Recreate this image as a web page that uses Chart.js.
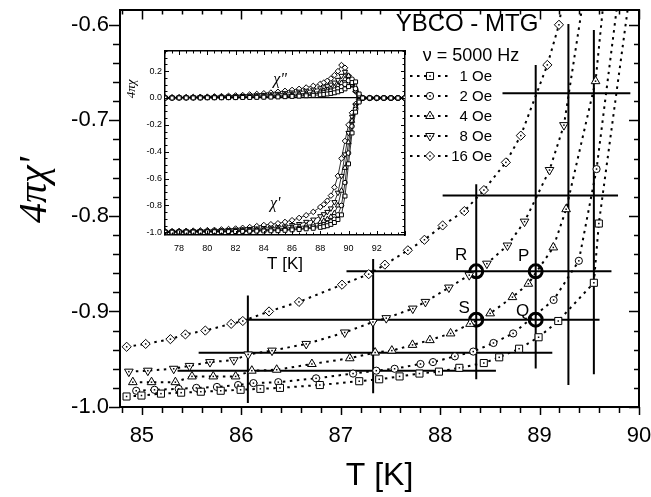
<!DOCTYPE html>
<html>
<head>
<meta charset="utf-8">
<script src="https://cdn.jsdelivr.net/npm/chart.js@4.4.0/dist/chart.umd.min.js"></script>
<style>
html, body { margin: 0; padding: 0; background: #fff; }
#wrap { position: relative; width: 651px; height: 497px; }
#main { position: absolute; left: 0; top: 0; }
#inset { position: absolute; left: 120px; top: 44px; }
</style>
</head>
<body>
<div id="wrap">
<canvas id="main" width="651" height="497"></canvas>
<canvas id="inset" width="290" height="232"></canvas>
</div>
<script>
// ---- main panel: 4*pi*chi' vs T ----
var labels = ['1 Oe', '2 Oe', '4 Oe', '8 Oe', '16 Oe'];

var T_1Oe = [84.846, 84.996, 85.192, 85.395, 85.593, 85.793, 85.993, 86.192, 86.389, 86.79, 87.186, 87.387, 87.592, 87.792, 87.988, 88.193, 88.439, 88.594, 88.794, 88.99, 89.188, 89.546, 89.596, 89.93];
var chi_1Oe = [-0.989, -0.988, -0.986, -0.985, -0.984, -0.983, -0.982, -0.981, -0.980, -0.977, -0.973, -0.971, -0.968, -0.965, -0.963, -0.959, -0.954, -0.948, -0.939, -0.927, -0.910, -0.870, -0.808, -0.55];

var T_2Oe = [84.943, 85.127, 85.37, 85.548, 85.755, 85.968, 86.122, 86.372, 86.752, 87.124, 87.358, 87.542, 87.802, 87.928, 88.148, 88.333, 88.536, 88.734, 89.141, 89.395, 89.573, 89.816];
var chi_2Oe = [-0.983, -0.982, -0.981, -0.980, -0.979, -0.977, -0.975, -0.974, -0.970, -0.965, -0.962, -0.960, -0.955, -0.953, -0.947, -0.942, -0.933, -0.923, -0.888, -0.847, -0.751, -0.55];

var T_4Oe = [84.909, 85.097, 85.337, 85.504, 85.718, 85.943, 86.106, 86.356, 86.71, 87.091, 87.346, 87.514, 87.722, 87.897, 88.105, 88.301, 88.503, 88.727, 88.887, 89.138, 89.267, 89.563, 89.668];
var chi_4Oe = [-0.974, -0.974, -0.974, -0.968, -0.968, -0.968, -0.962, -0.961, -0.955, -0.949, -0.943, -0.941, -0.935, -0.930, -0.923, -0.913, -0.902, -0.885, -0.871, -0.833, -0.793, -0.659, -0.55];

var T_8Oe = [84.869, 85.06, 85.32, 85.479, 85.685, 85.925, 86.069, 86.309, 86.653, 87.04, 87.324, 87.458, 87.725, 87.852, 88.088, 88.293, 88.47, 88.677, 88.849, 89.1, 89.245, 89.475];
var chi_8Oe = [-0.963, -0.962, -0.960, -0.957, -0.953, -0.951, -0.945, -0.941, -0.934, -0.922, -0.911, -0.907, -0.897, -0.890, -0.875, -0.862, -0.850, -0.831, -0.806, -0.752, -0.705, -0.55];

var T_16Oe = [84.847, 85.038, 85.287, 85.438, 85.638, 85.898, 86.015, 86.279, 86.58, 87.013, 87.281, 87.444, 87.675, 87.842, 88.025, 88.243, 88.44, 88.661, 88.811, 89.078, 89.195, 89.27];
var chi_16Oe = [-0.937, -0.934, -0.929, -0.924, -0.920, -0.913, -0.910, -0.900, -0.890, -0.872, -0.861, -0.851, -0.836, -0.825, -0.810, -0.795, -0.773, -0.744, -0.716, -0.642, -0.600, -0.55];

// solid bars: horizontal [y, T from, T to], vertical [T, y from, y to]
var hBars = [[-0.7786, 88.025, 89.789], [-0.6716, 88.627, 89.913], [-0.858, 87.058, 89.723],
             [-0.9086, 85.971, 89.603], [-0.9432, 85.571, 89.128], [-0.962, 85.359, 88.561]];
var vBars = [[86.066, -0.8833, -0.9958], [87.326, -0.8451, -0.9857], [88.363, -0.767, -0.971],
             [88.961, -0.642, -0.9597], [89.29, -0.5993, -0.9771], [89.546, -0.6055, -0.9656]];

// marked points R, P, S, Q
var markNames = ['R', 'P', 'S', 'Q'];
var markT = [88.363, 88.961, 88.363, 88.961];
var markChi = [-0.858, -0.858, -0.9086, -0.9086];

// ---- inset: full transition, chi' and chi'' ----
var insetT = [77, 77.5, 78, 78.5, 79, 79.5, 80, 80.5, 81, 81.5, 82, 82.5, 83, 83.5, 84, 84.5, 85, 85.5, 86, 86.5, 87, 87.5, 88,
              88.25, 88.5, 88.75, 89, 89.25, 89.5, 89.75, 90, 90.25, 90.5, 90.75, 91,
              91.5, 92, 92.5, 93, 93.5, 94];

var inRe_1Oe = [-0.999, -0.999, -0.998, -0.998, -0.998, -0.997, -0.997, -0.996, -0.996, -0.995, -0.994, -0.993, -0.992, -0.991, -0.990, -0.989, -0.988, -0.985, -0.982, -0.979, -0.974, -0.970, -0.963,
                -0.958, -0.951, -0.941, -0.927, -0.905, -0.870, -0.730, -0.490, -0.260, -0.105, -0.030, 0.000, 0, 0, 0, 0, 0, 0];
var inRe_2Oe = [-0.998, -0.998, -0.997, -0.997, -0.996, -0.996, -0.995, -0.994, -0.993, -0.992, -0.991, -0.990, -0.988, -0.986, -0.985, -0.984, -0.983, -0.980, -0.976, -0.973, -0.967, -0.960, -0.950,
                -0.944, -0.935, -0.922, -0.903, -0.870, -0.800, -0.630, -0.410, -0.210, -0.085, -0.022, 0.000, 0, 0, 0, 0, 0, 0];
var inRe_4Oe = [-0.997, -0.997, -0.996, -0.996, -0.995, -0.994, -0.993, -0.992, -0.991, -0.990, -0.988, -0.986, -0.984, -0.981, -0.979, -0.977, -0.975, -0.969, -0.963, -0.958, -0.950, -0.940, -0.925,
                -0.915, -0.902, -0.885, -0.857, -0.800, -0.690, -0.520, -0.330, -0.170, -0.065, -0.018, 0.000, 0, 0, 0, 0, 0, 0];
var inRe_8Oe = [-0.995, -0.995, -0.994, -0.993, -0.992, -0.991, -0.990, -0.988, -0.986, -0.984, -0.981, -0.978, -0.975, -0.972, -0.968, -0.965, -0.962, -0.956, -0.946, -0.938, -0.922, -0.905, -0.880,
                -0.865, -0.848, -0.822, -0.775, -0.705, -0.580, -0.420, -0.260, -0.140, -0.055, -0.015, 0.000, 0, 0, 0, 0, 0, 0];
var inRe_16Oe = [-0.992, -0.991, -0.990, -0.989, -0.988, -0.986, -0.984, -0.982, -0.979, -0.976, -0.972, -0.967, -0.961, -0.954, -0.946, -0.940, -0.933, -0.923, -0.910, -0.893, -0.873, -0.848, -0.812,
                 -0.792, -0.765, -0.727, -0.665, -0.580, -0.450, -0.320, -0.200, -0.110, -0.045, -0.012, 0.000, 0, 0, 0, 0, 0, 0];

var inIm_1Oe = [0.000, 0.000, 0.001, 0.001, 0.001, 0.001, 0.002, 0.002, 0.002, 0.003, 0.003, 0.004, 0.004, 0.005, 0.006, 0.007, 0.008, 0.010, 0.012, 0.014, 0.017, 0.020, 0.024,
                0.027, 0.030, 0.034, 0.039, 0.046, 0.055, 0.068, 0.085, 0.115, 0.120, 0.030, 0.000, 0, 0, 0, 0, 0, 0];
var inIm_2Oe = [0.001, 0.001, 0.001, 0.002, 0.002, 0.002, 0.003, 0.003, 0.004, 0.004, 0.005, 0.006, 0.007, 0.008, 0.009, 0.011, 0.013, 0.015, 0.018, 0.021, 0.025, 0.030, 0.036,
                0.040, 0.045, 0.051, 0.059, 0.069, 0.083, 0.102, 0.130, 0.140, 0.070, 0.020, 0.000, 0, 0, 0, 0, 0, 0];
var inIm_4Oe = [0.002, 0.002, 0.002, 0.003, 0.003, 0.004, 0.004, 0.005, 0.006, 0.007, 0.008, 0.009, 0.011, 0.013, 0.015, 0.017, 0.020, 0.023, 0.027, 0.031, 0.036, 0.042, 0.049,
                0.054, 0.060, 0.068, 0.078, 0.092, 0.112, 0.140, 0.165, 0.110, 0.055, 0.015, 0.000, 0, 0, 0, 0, 0, 0];
var inIm_8Oe = [0.003, 0.003, 0.004, 0.004, 0.005, 0.006, 0.007, 0.008, 0.009, 0.011, 0.013, 0.015, 0.017, 0.020, 0.023, 0.027, 0.031, 0.036, 0.041, 0.047, 0.054, 0.062, 0.072,
                0.079, 0.088, 0.100, 0.115, 0.135, 0.165, 0.195, 0.160, 0.100, 0.050, 0.015, 0.000, 0, 0, 0, 0, 0, 0];
var inIm_16Oe = [0.005, 0.005, 0.006, 0.007, 0.008, 0.009, 0.010, 0.012, 0.014, 0.016, 0.019, 0.022, 0.026, 0.030, 0.035, 0.040, 0.046, 0.053, 0.060, 0.068, 0.078, 0.090, 0.105,
                 0.115, 0.128, 0.145, 0.170, 0.200, 0.245, 0.225, 0.165, 0.100, 0.050, 0.015, 0.000, 0, 0, 0, 0, 0, 0];

// inset curve names, placed in data units
var insetNames = ["\u03c7\"", "\u03c7'"];
var insetNameT = [85.15, 84.8];
var insetNameY = [0.135, -0.79];

// ---------------------------------------------------------------
Chart.defaults.font.family = "'Liberation Sans', Arial, sans-serif";
Chart.defaults.color = '#000';

function zip(xs, ys) { return xs.map(function (x, i) { return {x: x, y: ys[i]}; }); }

// force a scale's thickness and drop the label overflow padding
function fixSize(prop, size) {
  return function (s) {
    s[prop] = size;
    s.paddingLeft = s.paddingRight = s.paddingTop = s.paddingBottom = 0;
  };
}

var shapes = ['rect', 'circle', 'triangle', 'triangle', 'rectRot'];
var turns = [0, 0, 0, 180, 0];
var bigR = [5, 3.6, 5, 5, 4.6];
var smallR = [2.8, 2.3, 3, 3, 2.8];
var mainT = [T_1Oe, T_2Oe, T_4Oe, T_8Oe, T_16Oe];
var mainChi = [chi_1Oe, chi_2Oe, chi_4Oe, chi_8Oe, chi_16Oe];

var seriesSets = labels.map(function (lab, i) {
  return {
    label: lab, data: zip(mainT[i], mainChi[i]), showLine: true, dot: true,
    borderColor: '#000', borderWidth: 2, borderDash: [2.5, 4.5],
    pointStyle: shapes[i], pointRotation: turns[i], pointRadius: bigR[i],
    pointBorderWidth: 1, pointBorderColor: '#000', pointBackgroundColor: '#fff'
  };
});
var barSets = hBars.map(function (b) {
  return {data: [{x: b[1], y: b[0]}, {x: b[2], y: b[0]}], showLine: true, pointRadius: 0, borderColor: '#000', borderWidth: 2};
}).concat(vBars.map(function (b) {
  return {data: [{x: b[0], y: b[1]}, {x: b[0], y: b[2]}], showLine: true, pointRadius: 0, borderColor: '#000', borderWidth: 2};
}));
var ringSet = {
  data: zip(markT, markChi), showLine: false,
  pointStyle: 'circle', pointRadius: 6.5, pointBorderWidth: 3,
  pointBorderColor: '#000', pointBackgroundColor: 'rgba(0,0,0,0)'
};

// tick marks drawn from the scales (major + minor, in or out)
function tickMarks(list, lw) {
  return {
    id: 'tickMarks',
    afterDraw: function (chart) {
      var ctx = chart.ctx, a = chart.chartArea;
      ctx.save();
      ctx.strokeStyle = '#000';
      ctx.lineWidth = lw;
      list.forEach(function (t) {
        var sc = chart.scales[t.scale];
        for (var k = Math.ceil(sc.min / t.step - 1e-6); k * t.step <= sc.max + 1e-9; k++) {
          var v = k * t.step;
          var major = Math.abs(v / t.major - Math.round(v / t.major)) < 1e-6;
          var len = (major ? t.majLen : t.minLen) * t.dir;
          var p = Math.round(sc.getPixelForValue(v)) + 0.5;
          ctx.beginPath();
          if (t.side === 'bottom') { ctx.moveTo(p, a.bottom); ctx.lineTo(p, a.bottom + len); }
          if (t.side === 'top') { ctx.moveTo(p, a.top); ctx.lineTo(p, a.top + len); }
          if (t.side === 'left') { ctx.moveTo(a.left, p); ctx.lineTo(a.left + len, p); }
          if (t.side === 'right') { ctx.moveTo(a.right, p); ctx.lineTo(a.right + len, p); }
          ctx.stroke();
        }
      });
      ctx.restore();
    }
  };
}

var mainText = {
  id: 'mainText',
  afterDraw: function (chart) {
    var ctx = chart.ctx, a = chart.chartArea;
    ctx.save();
    // centre dots in the open markers
    ctx.fillStyle = '#000';
    chart.data.datasets.forEach(function (ds, i) {
      if (!ds.dot) return;
      chart.getDatasetMeta(i).data.forEach(function (el) {
        if (el.x >= a.left && el.x <= a.right && el.y >= a.top && el.y <= a.bottom) ctx.fillRect(el.x - 0.75, el.y - 0.75, 1.5, 1.5);
      });
    });
    // heading
    ctx.textAlign = 'center';
    ctx.textBaseline = 'alphabetic';
    ctx.font = "24px 'Liberation Sans', Arial, sans-serif";
    ctx.fillText('YBCO - MTG', 467, 31);
    ctx.font = "18px 'Liberation Sans', Arial, sans-serif";
    ctx.fillText('\u03bd = 5000 Hz', 471, 61);
    // legend
    ctx.font = "15px 'Liberation Sans', Arial, sans-serif";
    ctx.textAlign = 'right';
    ctx.textBaseline = 'middle';
    for (var i = 0; i < labels.length; i++) {
      var ds = chart.data.datasets[i], y = 76 + 20 * i;
      ctx.lineWidth = 2;
      ctx.strokeStyle = '#000';
      ctx.setLineDash([2.5, 4.5]);
      ctx.beginPath(); ctx.moveTo(410, y); ctx.lineTo(452, y); ctx.stroke();
      ctx.setLineDash([]);
      ctx.lineWidth = 1;
      ctx.fillStyle = '#fff';
      Chart.helpers.drawPoint(ctx, {pointStyle: ds.pointStyle, radius: ds.pointRadius, rotation: ds.pointRotation, borderWidth: 1}, 430, y);
      ctx.fillStyle = '#000';
      ctx.fillRect(429.25, y - 0.75, 1.5, 1.5);
      ctx.fillText(labels[i], 492, y + 1);
    }
    // R P S Q
    var off = [[-15, -16], [-12, -15], [-12, -11], [-13, -8]];
    var ringMeta = chart.getDatasetMeta(chart.data.datasets.length - 1);
    ctx.font = "17px 'Liberation Sans', Arial, sans-serif";
    ctx.textAlign = 'center';
    ringMeta.data.forEach(function (el, k) {
      ctx.fillText(markNames[k], el.x + off[k][0], el.y + off[k][1]);
    });
    // y axis title
    ctx.translate(35, 190);
    ctx.rotate(-Math.PI / 2);
    ctx.font = "italic 40px 'Liberation Serif', 'Times New Roman', serif";
    ctx.fillText("4\u03c0\u03c7'", 0, 0);
    ctx.restore();
  }
};

var xMin = 84.78, xMax = 90, yMin = -1.0, yMax = -0.584;
var frame = function (pos, lo, hi, size, bw) {
  return {
    type: 'linear', position: pos, min: lo, max: hi, display: true,
    ticks: {display: false}, grid: {display: false, drawTicks: false},
    border: {color: '#000', width: bw},
    afterFit: fixSize(pos === 'top' ? 'height' : 'width', size)
  };
};

new Chart(document.getElementById('main'), {
  type: 'scatter',
  data: {datasets: seriesSets.concat(barSets, [ringSet])},
  options: {
    responsive: false, animation: false, events: [],
    layout: {padding: 0},
    plugins: {legend: {display: false}, tooltip: {enabled: false}},
    scales: {
      x: {
        type: 'linear', position: 'bottom', min: xMin, max: xMax,
        ticks: {stepSize: 1, includeBounds: false, padding: 16, font: {size: 22}, maxRotation: 0, autoSkip: false},
        grid: {display: false, drawTicks: false},
        border: {color: '#000', width: 2},
        title: {display: true, text: 'T [K]', font: {size: 32}, padding: {top: 0, bottom: 2}},
        afterFit: fixSize('height', 90)
      },
      y: {
        type: 'linear', position: 'left', min: yMin, max: yMax,
        ticks: {stepSize: 0.1, includeBounds: false, padding: 11, font: {size: 22},
                callback: function (v) { return v.toFixed(1); }},
        grid: {display: false, drawTicks: false},
        border: {color: '#000', width: 2},
        afterFit: fixSize('width', 120)
      },
      x2: frame('top', xMin, xMax, 7, 2),
      y2: frame('right', yMin, yMax, 12, 2)
    }
  },
  plugins: [tickMarks([
    {scale: 'x', side: 'bottom', step: 0.2, major: 1, majLen: 8, minLen: 6, dir: 1},
    {scale: 'x', side: 'top', step: 0.2, major: 1, majLen: 10, minLen: 5, dir: 1},
    {scale: 'y', side: 'left', step: 0.02, major: 0.1, majLen: 11, minLen: 7, dir: -1},
    {scale: 'y', side: 'right', step: 0.02, major: 0.1, majLen: 10, minLen: 5, dir: -1}
  ], 1.5), mainText]
});

// ---------------- inset ----------------
var inRe = [inRe_1Oe, inRe_2Oe, inRe_4Oe, inRe_8Oe, inRe_16Oe];
var inIm = [inIm_1Oe, inIm_2Oe, inIm_4Oe, inIm_8Oe, inIm_16Oe];
var insetSets = [];
[inIm, inRe].forEach(function (group) {
  group.forEach(function (vals, i) {
    insetSets.push({
      data: zip(insetT, vals), showLine: true,
      borderColor: '#000', borderWidth: 0.8,
      pointStyle: shapes[i], pointRotation: turns[i], pointRadius: smallR[i],
      pointBorderWidth: 1, pointBorderColor: '#000', pointBackgroundColor: '#fff'
    });
  });
});

var insetText = {
  id: 'insetText',
  beforeDraw: function (chart) {
    var a = chart.chartArea, ctx = chart.ctx;
    ctx.save();
    ctx.fillStyle = '#fff';
    ctx.fillRect(a.left, a.top, a.right - a.left, a.bottom - a.top);
    ctx.restore();
  },
  afterDraw: function (chart) {
    var a = chart.chartArea, ctx = chart.ctx;
    ctx.save();
    ctx.fillStyle = '#000';
    ctx.textAlign = 'center';
    ctx.textBaseline = 'middle';
    ctx.font = "italic 16px 'Liberation Serif', 'Times New Roman', serif";
    insetNames.forEach(function (n, k) {
      ctx.fillText(n, chart.scales.x.getPixelForValue(insetNameT[k]), chart.scales.y.getPixelForValue(insetNameY[k]));
    });
    ctx.translate(a.left - 33, a.top + 38);
    ctx.rotate(-Math.PI / 2);
    ctx.font = "italic 13px 'Liberation Serif', 'Times New Roman', serif";
    ctx.fillText('4\u03c0\u03c7', 0, 0);
    ctx.restore();
  }
};

var ixMin = 77, ixMax = 94, iyMin = -1.02, iyMax = 0.35;

new Chart(document.getElementById('inset'), {
  type: 'scatter',
  data: {datasets: insetSets},
  options: {
    responsive: false, animation: false, events: [],
    layout: {padding: 0},
    plugins: {legend: {display: false}, tooltip: {enabled: false}},
    scales: {
      x: {
        type: 'linear', position: 'bottom', min: ixMin, max: ixMax,
        ticks: {stepSize: 2, includeBounds: false, padding: 8, font: {size: 9}, maxRotation: 0, autoSkip: false,
                callback: function (v) { return v > 92 ? '' : v; }},
        grid: {display: false, drawTicks: false},
        border: {color: '#000', width: 1.5},
        title: {display: true, text: 'T [K]', font: {size: 17}, padding: {top: 0, bottom: 1}},
        afterFit: fixSize('height', 41)
      },
      y: {
        type: 'linear', position: 'left', min: iyMin, max: iyMax,
        ticks: {stepSize: 0.2, includeBounds: false, padding: 3, font: {size: 9},
                callback: function (v) { return v.toFixed(1); }},
        grid: {display: true, drawTicks: false, lineWidth: 1.2,
               color: function (c) { return c.tick && Math.abs(c.tick.value) < 1e-9 ? '#000' : 'rgba(0,0,0,0)'; }},
        border: {color: '#000', width: 1.5},
        afterFit: fixSize('width', 45)
      },
      x2: frame('top', ixMin, ixMax, 7, 1.5),
      y2: frame('right', iyMin, iyMax, 5, 1.5)
    }
  },
  plugins: [insetText, tickMarks([
    {scale: 'x', side: 'bottom', step: 0.5, major: 2, majLen: 4, minLen: 2.5, dir: -1},
    {scale: 'x', side: 'top', step: 0.5, major: 2, majLen: 4, minLen: 2.5, dir: 1},
    {scale: 'y', side: 'left', step: 0.05, major: 0.2, majLen: 4, minLen: 2.5, dir: 1},
    {scale: 'y', side: 'right', step: 0.05, major: 0.2, majLen: 4, minLen: 2.5, dir: -1}
  ], 1)]
});
</script>
</body>
</html>
